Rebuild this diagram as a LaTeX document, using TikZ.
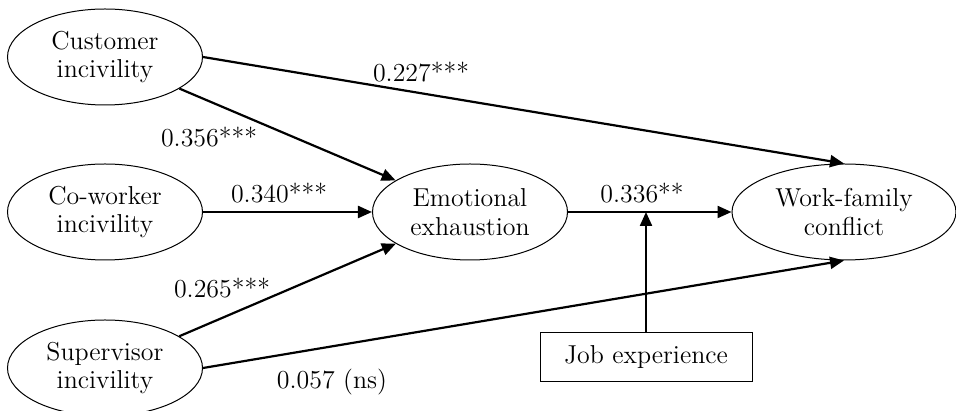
\documentclass[tikz,border=0pt]{standalone}
\usetikzlibrary{shapes.geometric,arrows.meta}
\begin{document}
\begin{tikzpicture}[x=0.5bp,y=-0.5bp,font=\fontsize{13}{14.5}\selectfont,
        latent/.style={draw,ellipse,line width=0.5bp,minimum width=97.5bp,minimum height=48bp,inner sep=0pt,align=center},
        path/.style={line width=1.1bp,-{Triangle[length=7bp,width=6bp]}}]
        \useasboundingbox (0,0) rectangle (956,411);
        \node[latent] (cust) at (105,57) {Customer\\incivility};
        \node[latent] (cowk) at (105,212) {Co-worker\\incivility};
        \node[latent] (supv) at (105,368) {Supervisor\\incivility};
        \node[latent] (emex) at (470,212) {Emotional\\exhaustion};
        \node[latent,minimum width=112bp] (wfc) at (844,212) {Work-family\\conflict};
        \node[draw,line width=0.5bp,minimum width=106bp,minimum height=24.5bp] (job) at (646,357) {Job experience};
        \coordinate (mod) at (job.north |- emex.east);
        \draw[path] (cust) -- (emex);
        \draw[path] (cowk.east) -- (emex.west);
        \draw[path] (supv) -- (emex);
        \draw[path] (cust.east) -- (wfc.north);
        \draw[path] (supv.east) -- (wfc.south);
        \draw[path] (emex.east) -- (wfc.west);
        \draw[path] (job.north) -- (mod);
        \node (c1) at (421,72) {0.227***};
        \node (c2) at (209,137) {0.356***};
        \node (c3) at (279,193) {0.340***};
        \node (c4) at (222,288) {0.265***};
        \node (c5) at (332,382) {0.057 (ns)};
        \node (c6) at (642,193) {0.336**};
\end{tikzpicture}
\end{document}
